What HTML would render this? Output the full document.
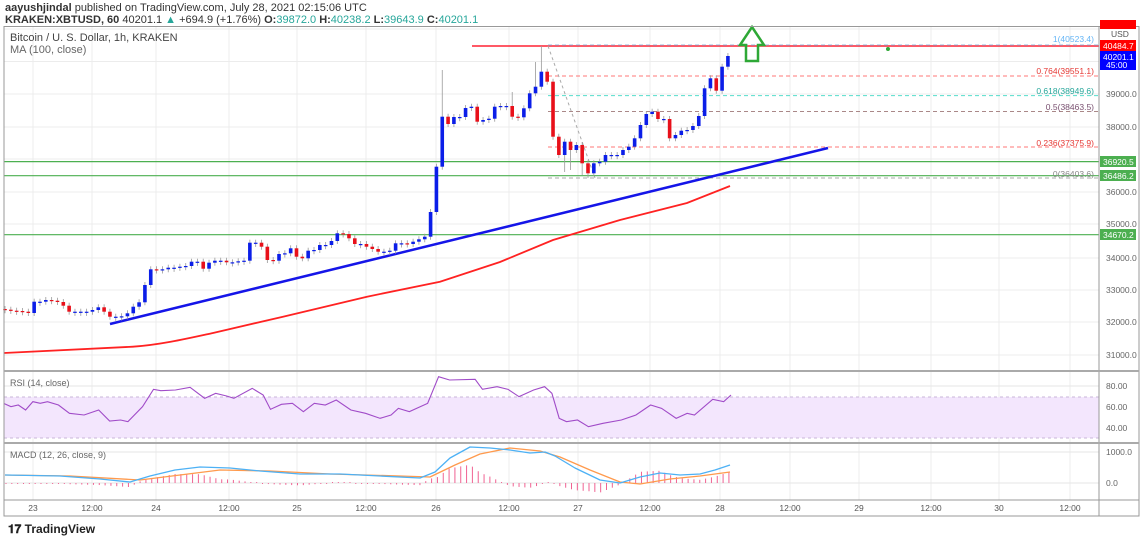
<!DOCTYPE html>
<html><head><meta charset="utf-8"><style>
body{margin:0;background:#fff;width:1140px;height:541px;overflow:hidden;font-family:"Liberation Sans",sans-serif}
svg{position:absolute;left:0;top:0}
</style></head><body>
<svg id="s" width="1140" height="541" xmlns="http://www.w3.org/2000/svg" font-family="Liberation Sans, sans-serif">
<text x="5" y="11" font-size="11" fill="#333"><tspan font-weight="bold">aayushjindal</tspan> published on TradingView.com, July 28, 2021 02:15:06 UTC</text>
<text x="5" y="23" font-size="11" fill="#333"><tspan font-weight="bold">KRAKEN:XBTUSD, 60</tspan> 40201.1 <tspan fill="#26a69a">▲</tspan> +694.9 (+1.76%) <tspan font-weight="bold">O:</tspan><tspan fill="#26a69a">39872.0</tspan> <tspan font-weight="bold">H:</tspan><tspan fill="#26a69a">40238.2</tspan> <tspan font-weight="bold">L:</tspan><tspan fill="#26a69a">39643.9</tspan> <tspan font-weight="bold">C:</tspan><tspan fill="#26a69a">40201.1</tspan></text>
<g id="grid"></g>
<rect x="4" y="397" width="1095" height="41" fill="#f3e6fd"/>
<line x1="4" x2="1099" y1="397" y2="397" stroke="#c9b6d9" stroke-dasharray="3,3"/>
<line x1="4" x2="1099" y1="438" y2="438" stroke="#c9b6d9" stroke-dasharray="3,3"/>
<g id="main"></g>
<g fill="none" stroke="#999" stroke-width="1">
<rect x="4" y="26.5" width="1135" height="489.5"/>
<line x1="1099" x2="1099" y1="26" y2="516"/>
<line x1="4" x2="1139" y1="371" y2="371" stroke="#aaa" stroke-width="2"/>
<line x1="4" x2="1139" y1="443" y2="443" stroke="#aaa" stroke-width="2"/>
<line x1="4" x2="1139" y1="500" y2="500"/>
</g>
<text x="10" y="41" font-size="11" fill="#444">Bitcoin / U. S. Dollar, 1h, KRAKEN</text>
<text x="10" y="53" font-size="11" fill="#666">MA (100, close)</text>
<text x="10" y="386" font-size="9" fill="#666">RSI (14, close)</text>
<text x="10" y="458" font-size="9" fill="#666">MACD (12, 26, close, 9)</text>
<g font-size="8.5" fill="#666" id="axis">
<text x="1106" y="97">39000.0</text><text x="1106" y="130">38000.0</text>
<text x="1106" y="195">36000.0</text><text x="1106" y="227">35000.0</text>
<text x="1106" y="261">34000.0</text><text x="1106" y="293">33000.0</text>
<text x="1106" y="325">32000.0</text><text x="1106" y="358">31000.0</text>
<text x="1106" y="389">80.00</text><text x="1106" y="410">60.00</text><text x="1106" y="431">40.00</text>
<text x="1106" y="455">1000.0</text><text x="1106" y="486">0.0</text>
<text x="1111" y="37" fill="#555">USD</text>
</g>
<rect x="1100" y="20" width="36" height="9" fill="#f00"/>
<rect x="1100" y="40" width="36" height="11" fill="#f00"/><text x="1103" y="49" font-size="8.5" fill="#fff">40484.7</text>
<rect x="1100" y="51" width="36" height="19" fill="#00f"/><text x="1103" y="60" font-size="8.5" fill="#fff">40201.1</text><text x="1106" y="68" font-size="8.5" fill="#fff">45:00</text>
<rect x="1100" y="156" width="36" height="11" fill="#4caf50"/><text x="1103" y="165" font-size="8.5" fill="#fff">36920.5</text>
<rect x="1100" y="170" width="36" height="11" fill="#4caf50"/><text x="1103" y="179" font-size="8.5" fill="#fff">36486.2</text>
<rect x="1100" y="229" width="36" height="11" fill="#4caf50"/><text x="1103" y="238" font-size="8.5" fill="#fff">34670.2</text>
<g font-size="8.5" text-anchor="end">
<text x="1094" y="42" fill="#64b5f6">1(40523.4)</text>
<text x="1094" y="74" fill="#e53935">0.764(39551.1)</text>
<text x="1094" y="94" fill="#26a69a">0.618(38949.6)</text>
<text x="1094" y="110" fill="#795070">0.5(38463.5)</text>
<text x="1094" y="146" fill="#e53935">0.236(37375.9)</text>
<text x="1094" y="177" fill="#888">0(36403.6)</text>
</g>
<g font-size="8.5" fill="#555" text-anchor="middle" id="dates"></g>
<text x="8" y="533" font-size="12" font-weight="bold" fill="#222">𝟏𝟕 TradingView</text>
</svg>
<script>
const NS="http://www.w3.org/2000/svg";
function el(p,t,a){const e=document.createElementNS(NS,t);for(const k in a)e.setAttribute(k,a[k]);document.getElementById(p).appendChild(e);return e;}
const dx=[33,92,156,229,297,366,436,509,578,650,720,790,859,931,999,1070];
const dl=["23","12:00","24","12:00","25","12:00","26","12:00","27","12:00","28","12:00","29","12:00","30","12:00"];
dx.forEach((x,i)=>{el("grid","line",{x1:x,x2:x,y1:27,y2:500,stroke:"#ececec"});const t=el("dates","text",{x:x,y:511});t.textContent=dl[i];});
[29,61.5,94,127,159,192,224,258,290,322,355].forEach(y=>el("grid","line",{x1:4,x2:1099,y1:y,y2:y,stroke:"#ececec"}));
[386,407,428,452,483].forEach(y=>el("grid","line",{x1:4,x2:1099,y1:y,y2:y,stroke:"#e6e6e6"}));
el("main","line",{x1:472,x2:1099,y1:46,y2:46,stroke:"#f23","stroke-width":1.5});
[[76,"#f77"],[95.6,"#5dc"],[111.5,"#a88"],[147,"#f77"],[178,"#aaa"]].forEach(([y,c])=>el("main","line",{x1:548,x2:1099,y1:y,y2:y,stroke:c,"stroke-dasharray":"4,3"}));
el("main","line",{x1:548,x2:1099,y1:45,y2:45,stroke:"#9bd","stroke-dasharray":"4,3"});
el("main","line",{x1:548,x2:595,y1:46,y2:178,stroke:"#aaa","stroke-dasharray":"3,3"});
[161.6,175.7,234.7].forEach(y=>el("main","line",{x1:4,x2:1099,y1:y,y2:y,stroke:"#4caf50","stroke-width":1.2}));
el("main","path",{d:"M4,353 L133,346.7 C160,345 190,338 213,333 L283,316.7 L367,296.7 L440,281.7 L500,262 L553,240 L620,220 L687,203 L730,186",fill:"none",stroke:"#f22","stroke-width":1.8});
el("main","line",{x1:110,y1:324,x2:828,y2:148,stroke:"#1515e8","stroke-width":2.5});
const c=[309.7,310.7,311,311.7,313,301.7,301.7,300,300.7,302,305.7,311.7,311.7,311.7,311.7,310,307.3,311.7,316.7,316.7,316.3,313.3,306.7,302.3,285,269.3,270,269.3,267.7,267.7,266.7,266,261.7,261.7,268.7,262.7,260.7,260.7,262.3,262.3,261.3,260.7,242.7,242.7,246.7,260,260.7,254,253.3,248.3,256.7,258.3,250.7,250,245,245,241,233.3,234,238.3,244,244,246.7,249,251.7,251.7,250.7,243.3,243.3,244,241.7,239.3,236.7,
212,166.7,116.7,124,117,117,108,106.7,121.7,120,118.7,106.7,106,106,116.7,117.3,108.3,93.3,86.7,71.7,81.7,136.7,155,141.7,150,145,163.3,173.3,163.3,161.7,155,155,155,150,146.7,138.3,125,114,111.7,119,119,138.3,135,130.7,130,126,116,88.3,78.3,90.7,66.7,56];
const hi={75:70,92:46,91:62,87:92,96:172,97:170,99:175,100:178};
let o=309;
c.forEach((cl,i)=>{const x=5+i*5.83;let top=Math.min(o,cl),bot=Math.max(o,cl);if(bot-top<1.2){bot=top+1.2;}
 const up=cl<=o;const col=up?"#0b1ee8":"#e8101a";
 el("main","line",{x1:x,x2:x,y1:(hi[i]&&hi[i]<top?hi[i]:top-3),y2:(hi[i]&&hi[i]>bot?hi[i]:bot+3),stroke:"#999","stroke-width":0.8});
 el("main","rect",{x:x-1.8,y:top,width:3.6,height:bot-top,fill:col});o=cl;});
el("main","path",{d:"M752,27 L764,45 L758,45 L758,61 L746,61 L746,45 L740,45 Z",fill:"none",stroke:"#2ea836","stroke-width":2.5});
el("main","circle",{cx:888,cy:49,r:2,fill:"#2ea836"});
const r=[[5,130],[15,140],[25,135],[35,150],[45,125],[55,130],[65,125],[80,135],[95,160],[115,165],[135,150],[150,183],[165,180],[175,185],[195,140],[210,88],[220,92],[240,90],[260,82],[280,115],[295,100],[310,108],[320,115],[345,85],[360,105],[370,148],[385,133],[400,130],[415,155],[430,130],[445,135],[460,120],[480,150],[500,160],[520,175],[535,165],[545,145],[560,155],[585,130],[600,50],[615,60],[650,58],[660,88],[680,80],[695,88],[710,110],[730,90],[745,80],[755,100],[765,175],[775,185],[790,180],[805,200],[825,190],[850,180],[870,165],[890,135],[905,145],[925,175],[940,160],[950,165],[975,118],[990,125],[1000,105]];
const tr=p=>[p[0]/1.368,360+p[1]/3];
el("main","polyline",{points:r.map(p=>tr(p).join(",")).join(" "),fill:"none",stroke:"#a04bc8","stroke-width":1.1});
const mb=[[5,475],[60,476],[100,479],[130,482],[150,476],[175,470],[200,467],[230,468],[260,471],[300,474],[340,474],[380,476],[420,478],[435,472],[450,458],[470,447],[490,448],[510,450],[530,453],[545,452],[555,456],[575,468],[600,480],[620,483],[640,477],[660,473],[680,475],[700,474],[715,470],[730,465]];
const mo=[[5,475],[70,476],[140,480],[180,475],[220,470],[270,471],[330,474],[400,476],[430,477],[455,465],[480,454],[510,448],[540,451],[560,457],[590,470],[620,482],[640,484],[670,479],[700,476],[730,472]];
function interp(a,x){for(let i=1;i<a.length;i++)if(x<=a[i][0]){const t=(x-a[i-1][0])/(a[i][0]-a[i-1][0]);return a[i-1][1]+t*(a[i][1]-a[i-1][1]);}return a[a.length-1][1];}
for(let x=6;x<=730;x+=5.83){const d=(interp(mo,x)-interp(mb,x))*1.6;el("main","line",{x1:x,x2:x,y1:483,y2:483-(Math.abs(d)<1?(d<0?-1:1):d),stroke:"#f06292","stroke-width":1});}
el("main","polyline",{points:mo.map(p=>p.join(",")).join(" "),fill:"none",stroke:"#ff9a4d","stroke-width":1.3,"stroke-linejoin":"round"});
el("main","polyline",{points:mb.map(p=>p.join(",")).join(" "),fill:"none",stroke:"#4db1f5","stroke-width":1.3,"stroke-linejoin":"round"});
</script>
</body></html>
